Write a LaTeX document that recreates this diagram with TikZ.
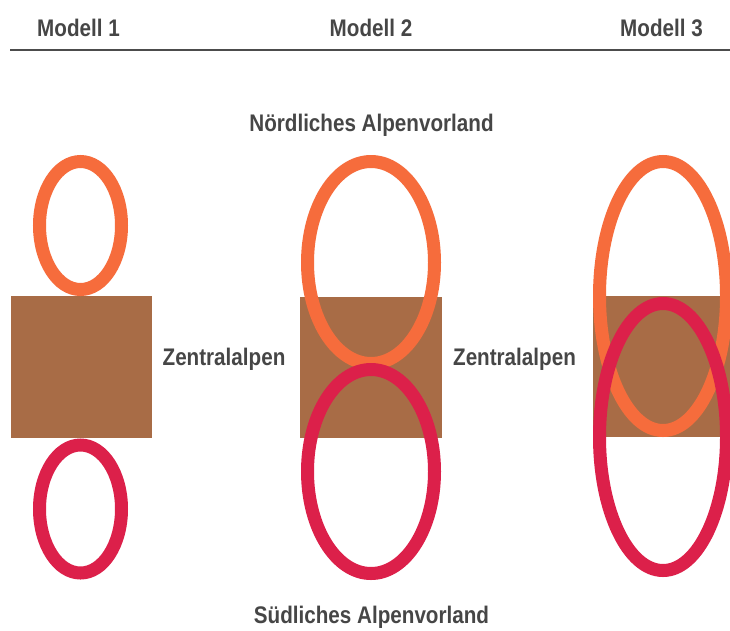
\documentclass[tikz,border=0pt]{standalone}
\usepackage{fontspec}
\setmainfont{Liberation Sans}
\definecolor{orng}{RGB}{246,108,60}
\definecolor{crim}{RGB}{220,32,74}
\definecolor{brwn}{RGB}{168,108,70}
\definecolor{txt}{RGB}{70,70,70}
\tikzset{
  lbl/.style={inner sep=0pt, anchor=base, text=txt, font=\fontsize{24}{27}\selectfont\bfseries},
  ring/.style={line width=13pt},
  rock/.style={fill=brwn, draw=none},
}
\newcommand{\cnd}[1]{\scalebox{0.86}[1]{#1}}
\begin{document}
\begin{tikzpicture}[x=1pt,y=-1pt]
\clip (0,0) rectangle (730,630);
\fill[white] (0,0) rectangle (730,630);
% headings
\node[lbl] (m1) at (78.5,36) {\cnd{Modell 1}};
\node[lbl] (m2) at (371,36) {\cnd{Modell 2}};
\node[lbl] (m3) at (661.5,36) {\cnd{Modell 3}};
\coordinate (l1) at (10,50);
\coordinate (l2) at (730,50);
\draw[line width=1.4pt, color=black!70] (l1) -- (l2);
\node[lbl] (nord) at (371.5,131) {\cnd{Nördliches Alpenvorland}};
\node[lbl] (sued) at (371.5,623) {\cnd{Südliches Alpenvorland}};
% model 1
\fill[rock] (11,296) rectangle (152,438);
\draw[ring, orng] (80.5,225.5) ellipse [x radius=41, y radius=64];
\draw[ring, crim] (80.5,509) ellipse [x radius=41, y radius=64];
\node[lbl] (z1) at (224,365) {\cnd{Zentralalpen}};
% model 2
\fill[rock] (300,297) rectangle (442,438);
\draw[ring, orng] (371,262.5) ellipse [x radius=63.5, y radius=101];
\draw[ring, crim] (371,471.5) ellipse [x radius=63.5, y radius=102];
\node[lbl] (z2) at (514.5,365) {\cnd{Zentralalpen}};
% model 3
\fill[rock] (593,296) rectangle (734,437);
\draw[ring, orng] (663,296) ellipse [x radius=63.5, y radius=134.5];
\draw[ring, crim] (663,437) ellipse [x radius=63.5, y radius=133.5];
\end{tikzpicture}
\end{document}
